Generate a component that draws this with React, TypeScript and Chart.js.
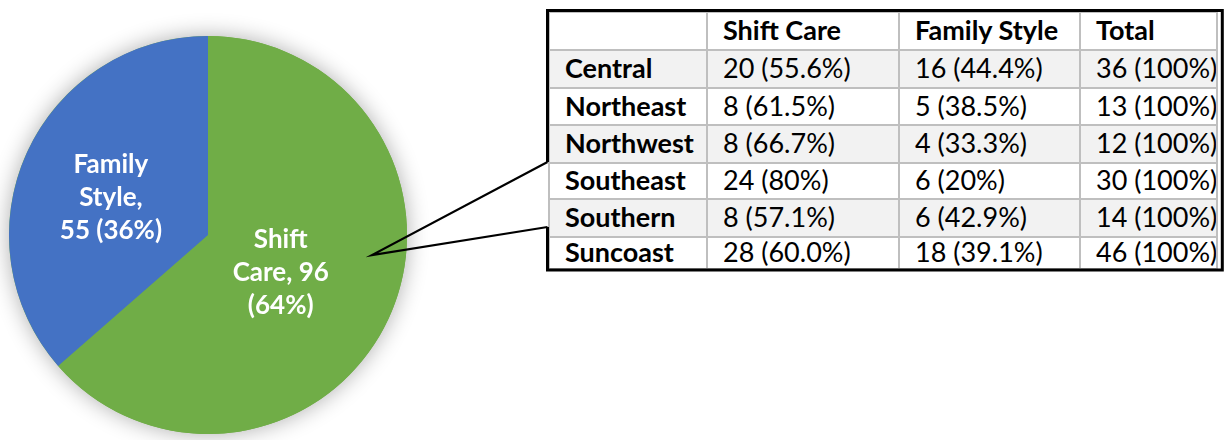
import React, { useEffect, useRef } from "react";
import { Chart, registerables } from "chart.js";

Chart.register(...registerables);

// ---- data ----
const categories = ["Shift Care", "Family Style"];
const values = [96, 55];
const sliceColors = ["#70AD47", "#4472C4"];

const tableHeaders = ["", "Shift Care", "Family Style", "Total"];
const regions = ["Central", "Northeast", "Northwest", "Southeast", "Southern", "Suncoast"];
const shiftCare = [20, 8, 8, 24, 8, 28];
const shiftCarePct = ["55.6%", "61.5%", "66.7%", "80%", "57.1%", "60.0%"];
const familyStyle = [16, 5, 4, 6, 6, 18];
const familyStylePct = ["44.4%", "38.5%", "33.3%", "20%", "42.9%", "39.1%"];
const totals = [36, 13, 12, 30, 14, 46];
const totalPct = ["100%", "100%", "100%", "100%", "100%", "100%"];

const total = values.reduce((a, b) => a + b, 0);
const pct = (i: number) => Math.round((values[i] / total) * 100);
const sliceLabels = [
  `Shift\nCare, ${values[0]}\n(${pct(0)}%)`,
  `Family\nStyle,\n${values[1]} (${pct(1)}%)`,
];

// ---- layout / style ----
const FONT = "Lato, 'Open Sans', sans-serif";
const labelPlacement = [
  { r: 0.41, da: 2.5 },
  { r: 0.524, da: -3 },
];
const colWidths = [158, 192, 181, 137];
const rowHeights = [38, 38, 37, 38, 36, 38, 32];
const calloutBox = { left: 547.5, top: 10.5, right: 1222.3, bottom: 270 };
const calloutTip = { x: 372, y: 255, y1: 162, y2: 227 };

const shadowPlugin = {
  id: "pieShadow",
  beforeDatasetsDraw(chart: any) {
    const arc = chart.getDatasetMeta(0).data[0];
    if (!arc) return;
    const ctx = chart.ctx;
    ctx.save();
    ctx.beginPath();
    ctx.arc(arc.x, arc.y, arc.outerRadius, 0, Math.PI * 2);
    ctx.shadowColor = "rgba(0,0,0,0.32)";
    ctx.shadowBlur = 22;
    ctx.fillStyle = sliceColors[0];
    ctx.fill();
    ctx.restore();
  },
};

const labelPlugin = {
  id: "pieLabels",
  afterDatasetsDraw(chart: any) {
    const ctx = chart.ctx;
    const meta = chart.getDatasetMeta(0);
    meta.data.forEach((el: any, i: number) => {
      const p = el.getProps(["x", "y", "startAngle", "endAngle", "outerRadius"], true);
      const mid = (p.startAngle + p.endAngle) / 2 + (labelPlacement[i].da * Math.PI) / 180;
      const r = p.outerRadius * labelPlacement[i].r;
      const cx = p.x + Math.cos(mid) * r;
      const cy = p.y + Math.sin(mid) * r;
      const lines = sliceLabels[i].split("\n");
      const lh = 33;
      ctx.save();
      ctx.font = `bold 26px ${FONT}`;
      ctx.fillStyle = "#FFFFFF";
      ctx.textAlign = "center";
      ctx.textBaseline = "alphabetic";
      lines.forEach((ln, k) => {
        const yc = cy + (k - (lines.length - 1) / 2) * lh;
        ctx.fillText(ln, cx, yc + 9);
      });
      ctx.restore();
    });
  },
  afterDraw(chart: any) {
    const ctx = chart.ctx;
    const b = calloutBox;
    const t = calloutTip;
    ctx.save();
    ctx.strokeStyle = "#000000";
    ctx.lineJoin = "miter";
    ctx.lineWidth = 3;
    ctx.beginPath();
    ctx.moveTo(b.left, t.y1);
    ctx.lineTo(b.left, b.top);
    ctx.lineTo(b.right, b.top);
    ctx.lineTo(b.right, b.bottom);
    ctx.lineTo(b.left, b.bottom);
    ctx.lineTo(b.left, t.y2);
    ctx.stroke();
    ctx.lineWidth = 2.2;
    ctx.beginPath();
    ctx.moveTo(b.left, t.y1);
    ctx.lineTo(t.x, t.y);
    ctx.lineTo(b.left, t.y2);
    ctx.stroke();
    ctx.restore();
  },
};

export default function App() {
  const ref = useRef<HTMLCanvasElement | null>(null);
  useEffect(() => {
    if (!ref.current) return;
    const chart = new Chart(ref.current, {
      type: "pie",
      data: {
        labels: categories,
        datasets: [
          {
            data: values,
            backgroundColor: sliceColors,
            borderWidth: 0,
          },
        ],
      },
      options: {
        responsive: false,
        animation: false,
        layout: { padding: { left: 9, top: 36, right: 821, bottom: 6 } },
        plugins: { legend: { display: false }, tooltip: { enabled: false } },
      },
      plugins: [shadowPlugin, labelPlugin],
    } as any);
    return () => chart.destroy();
  }, []);

  const rows: string[][] = [tableHeaders];
  regions.forEach((r, i) => {
    rows.push([
      r,
      `${shiftCare[i]} (${shiftCarePct[i]})`,
      `${familyStyle[i]} (${familyStylePct[i]})`,
      `${totals[i]} (${totalPct[i]})`,
    ]);
  });

  return (
    <div
      style={{
        position: "fixed",
        left: 0,
        top: 0,
        width: 1228,
        height: 440,
        background: "#FFFFFF",
        overflow: "hidden",
      }}
    >
      <table
        style={{
          position: "absolute",
          left: 548,
          top: 11,
          width: colWidths.reduce((a, b) => a + b, 0),
          borderCollapse: "collapse",
          tableLayout: "fixed",
          fontFamily: FONT,
          fontSize: 27,
          color: "#000",
        }}
      >
        <colgroup>
          {colWidths.map((w, i) => (
            <col key={i} style={{ width: w }} />
          ))}
        </colgroup>
        <tbody>
          {rows.map((row, ri) => (
            <tr
              key={ri}
              style={{
                height: rowHeights[ri],
                background: ri % 2 === 1 ? "#F2F2F2" : "#FFFFFF",
              }}
            >
              {row.map((cell, ci) => (
                <td
                  key={ci}
                  style={{
                    border: "2px solid #BFBFBF",
                    padding: "0 0 3px 15px",
                    lineHeight: 1,
                    whiteSpace: "nowrap",
                    overflow: "hidden",
                    verticalAlign: "middle",
                    fontWeight: ri === 0 || ci === 0 ? 700 : 400,
                  }}
                >
                  {cell}
                </td>
              ))}
            </tr>
          ))}
        </tbody>
      </table>
      <canvas
        ref={ref}
        width={1228}
        height={440}
        style={{
          position: "absolute",
          left: 0,
          top: 0,
          width: 1228,
          height: 440,
          pointerEvents: "none",
          zIndex: 1,
        }}
      />
    </div>
  );
}
